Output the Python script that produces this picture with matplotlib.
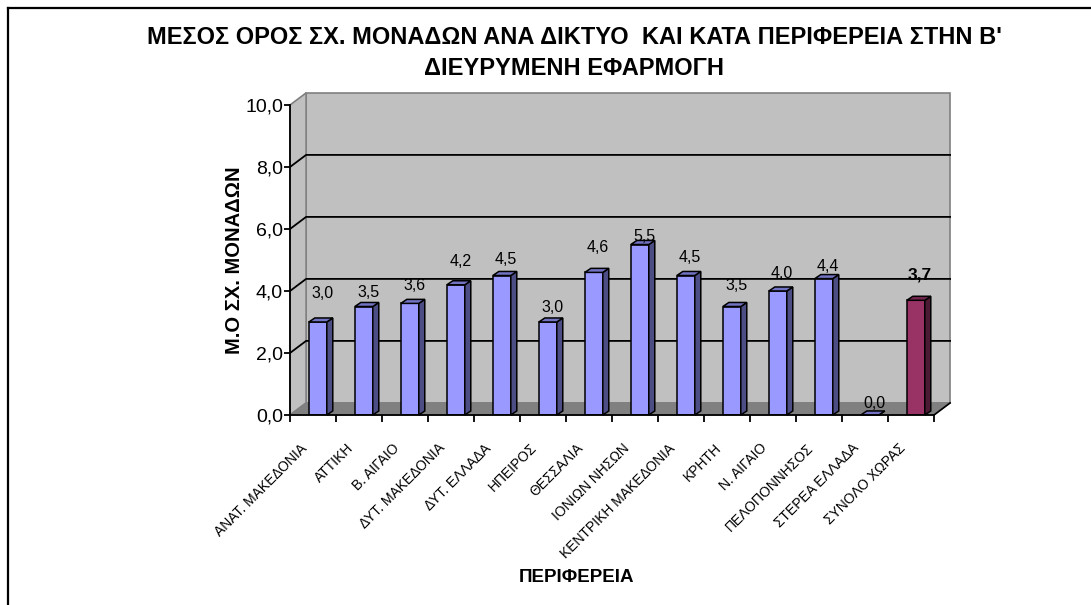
import matplotlib as mpl

mpl.use("Agg")
import matplotlib.pyplot as plt
import numpy as np
from matplotlib.lines import Line2D
from matplotlib.patches import Polygon

mpl.rcParams["font.family"] = ["Liberation Sans Narrow", "Liberation Sans", "DejaVu Sans"]

REGIONS = [
    "ΑΝΑΤ. ΜΑΚΕΔΟΝΙΑ", "ΑΤΤΙΚΗ", "Β. ΑΙΓΑΙΟ", "ΔΥΤ. ΜΑΚΕΔΟΝΙΑ", "ΔΥΤ. ΕΛΛΑΔΑ",
    "ΗΠΕΙΡΟΣ", "ΘΕΣΣΑΛΙΑ", "ΙΟΝΙΩΝ ΝΗΣΩΝ", "ΚΕΝΤΡΙΚΗ ΜΑΚΕΔΟΝΙΑ", "ΚΡΗΤΗ",
    "Ν. ΑΙΓΑΙΟ", "ΠΕΛΟΠΟΝΝΗΣΟΣ", "ΣΤΕΡΕΑ ΕΛΛΑΔΑ", "ΣΥΝΟΛΟ ΧΩΡΑΣ",
]
MEAN_UNITS = [3.0, 3.5, 3.6, 4.2, 4.5, 3.0, 4.6, 5.5, 4.5, 3.5, 4.0, 4.4, 0.0, 3.7]
Y_TICKS = [0, 2, 4, 6, 8, 10]

TITLE = "ΜΕΣΟΣ ΟΡΟΣ ΣΧ. ΜΟΝΑΔΩΝ ΑΝΑ ΔΙΚΤΥΟ  ΚΑΙ ΚΑΤΑ ΠΕΡΙΦΕΡΕΙΑ ΣΤΗΝ Β'\nΔΙΕΥΡΥΜΕΝΗ ΕΦΑΡΜΟΓΗ"
YLABEL = "Μ.Ο ΣΧ. ΜΟΝΑΔΩΝ"
XLABEL = "ΠΕΡΙΦΕΡΕΙΑ"

# label lift above the bar front top, in pixels (excel places them unevenly)
LABEL_LIFT = [29, 14, 18, 23, 16, 15, 25, 8, 18, 21, 18, 12, 12, 25]

WALL = "#C0C0C0"
FLOOR = "#808080"
EDGE = "#808080"
BLUE = ("#9999FF", "#4D4D85", "#7373C4")
WINE = ("#993366", "#4D1A33", "#73264D")

W, H = 1091, 605
DX, DY = 0.35, 0.39       # wall depth, data units
BX, BY = 0.13, 0.13       # bar depth
BAR_W = 0.39
BAR_OFF = 0.41

fig = plt.figure(figsize=(W / 100, H / 100), dpi=100)
ax = fig.add_axes([290 / W, (H - 415) / H, 644 / W, 310 / H])
n = len(REGIONS)
ax.set_xlim(0, n)
ax.set_ylim(0, 10)
ax.patch.set_visible(False)
for s in ["top", "right"]:
    ax.spines[s].set_visible(False)
ax.spines["left"].set_linewidth(1.3)
ax.spines["bottom"].set_linewidth(1.3)
ax.spines["left"].set_zorder(6)
ax.spines["bottom"].set_zorder(6)

# walls and floor
back = Polygon([(DX, DY), (n + DX, DY), (n + DX, 10 + DY), (DX, 10 + DY)],
               closed=True, facecolor=WALL, edgecolor=EDGE, lw=1.2, clip_on=False, zorder=0)
side = Polygon([(0, 0), (DX, DY), (DX, 10 + DY), (0, 10)],
               closed=True, facecolor=WALL, edgecolor=EDGE, lw=1.2, clip_on=False, zorder=0)
floor = Polygon([(0, 0), (n, 0), (n + DX, DY), (DX, DY)],
                closed=True, facecolor=FLOOR, edgecolor=EDGE, lw=1.0, clip_on=False, zorder=0.5)
for p in (back, side, floor):
    ax.add_patch(p)
ax.plot([n, n + DX], [0, DY], color="black", lw=1.2, clip_on=False, zorder=1)
for v in Y_TICKS[1:-1]:
    ax.plot([0, DX, n + DX], [v, v + DY, v + DY], color="black", lw=1.3, clip_on=False, zorder=1)

# bars
for i, v in enumerate(MEAN_UNITS):
    front, dark, top = WINE if i == n - 1 else BLUE
    x0 = i + BAR_OFF
    ax.bar(x0, v, width=BAR_W, align="edge", color=front, edgecolor="black", lw=1.1, zorder=3)
    ax.add_patch(Polygon([(x0 + BAR_W, 0), (x0 + BAR_W + BX, BY), (x0 + BAR_W + BX, v + BY), (x0 + BAR_W, v)],
                         closed=True, facecolor=dark, edgecolor="black", lw=1.1, zorder=3, clip_on=False))
    ax.add_patch(Polygon([(x0, v), (x0 + BX, v + BY), (x0 + BAR_W + BX, v + BY), (x0 + BAR_W, v)],
                         closed=True, facecolor=top, edgecolor="black", lw=1.1, zorder=3, clip_on=False))
    bold = i == n - 1
    ax.annotate(f"{v:.1f}".replace(".", ","), (i + 0.7, v), xytext=(0, LABEL_LIFT[i] * 0.72),
                textcoords="offset points", ha="center", va="center",
                fontsize=12.5 if bold else 11.5, fontweight="bold" if bold else "normal",
                family=["Liberation Sans", "DejaVu Sans"], color="black", zorder=5)

# axes ticks
ax.set_yticks(Y_TICKS, [f"{t:.1f}".replace(".", ",") for t in Y_TICKS],
              family=["Liberation Sans", "DejaVu Sans"], fontsize=14)
ax.tick_params(axis="y", length=4, width=1.3, pad=1, direction="out")
ax.set_xticks(np.arange(n + 1), [""] * (n + 1))
ax.tick_params(axis="x", length=5, width=1.3, direction="out")

for i, name in enumerate(REGIONS):
    ax.annotate(name, (i + 0.5, 0), xytext=(-8 * 0.72, -31 * 0.72), textcoords="offset points",
                rotation=45, rotation_mode="anchor", ha="right", va="center",
                fontsize=10, annotation_clip=False)

ax.set_ylabel(YLABEL, fontsize=14.5, fontweight="bold", family=["Liberation Sans", "DejaVu Sans"])
ax.yaxis.set_label_coords(-46 / 644, 0.5)

fig.text(577 / W, 1 - 578 / H, XLABEL, ha="center", va="center", fontsize=13.5, fontweight="bold")
fig.text(574 / W, 1 - 53 / H, TITLE, ha="center", va="center", fontsize=17, fontweight="bold",
         linespacing=1.4)

# outer chart frame (only top and left edges show)
fig.add_artist(Line2D([8 / W, 1.0], [1 - 8 / H, 1 - 8 / H], color="black", lw=1.6))
fig.add_artist(Line2D([8 / W, 8 / W], [0.0, 1 - 8 / H], color="black", lw=1.6))

fig.savefig("out.png", dpi=100)
